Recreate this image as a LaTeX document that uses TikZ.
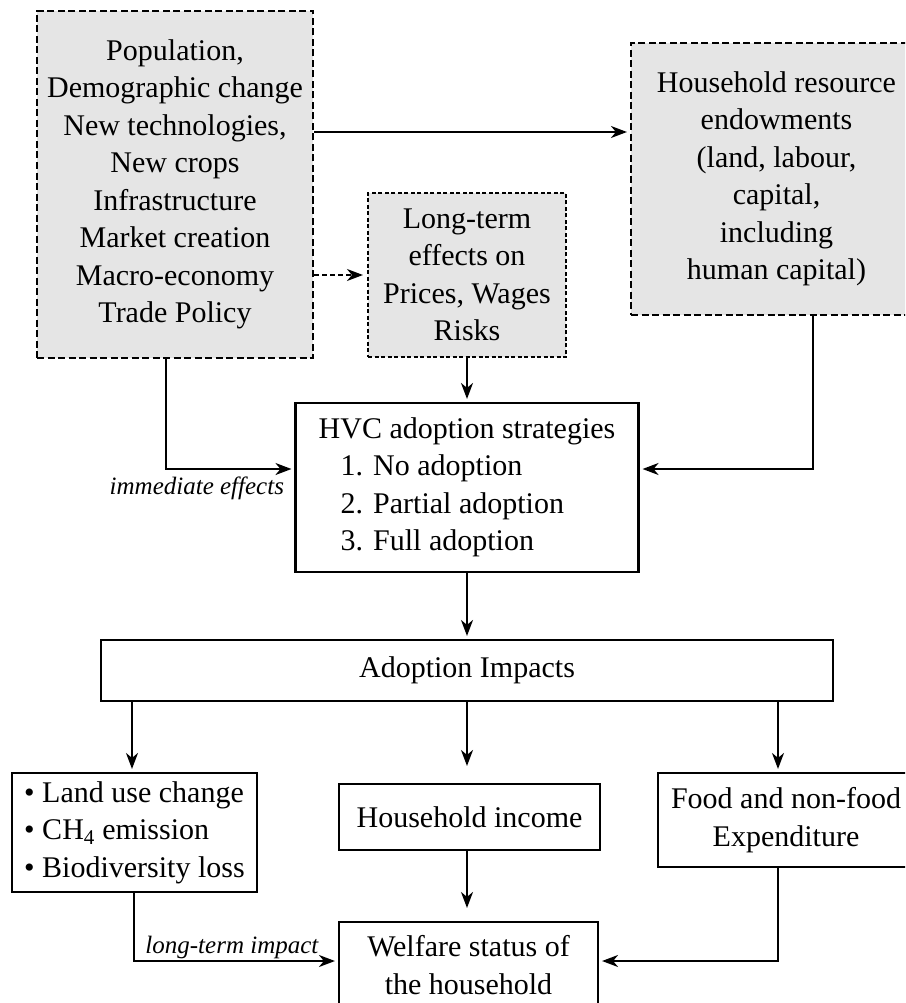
\documentclass[tikz,border=0pt]{standalone}
\usepackage{fontspec}
\setmainfont{Liberation Serif}
\usetikzlibrary{arrows.meta,calc}
\begin{document}
\begin{tikzpicture}[x=1pt,y=-1pt,
  box/.style={draw, line width=2.1pt, inner sep=0pt, align=center, font=\fontsize{30}{37.5}\selectfont},
  graybox/.style={box, fill=gray!20},
  longdash/.style={dash pattern=on 7pt off 3.5pt},
  shortdash/.style={dash pattern=on 4pt off 2.5pt},
  arr/.style={line width=2.1pt, -{Stealth[length=16pt,width=12pt,inset=5pt]}, shorten >=3pt},
  lab/.style={font=\fontsize{25}{30}\selectfont\itshape, inner sep=0pt, anchor=base}]
\useasboundingbox (0,0) rectangle (905,1003);
\clip (0,0) rectangle (905,1003);

% nodes
\node[graybox, longdash, minimum width=276pt, minimum height=347pt] (tl) at (175,184.5)
  {Population,\\Demographic change\\New technologies,\\New crops\\Infrastructure\\Market creation\\Macro-economy\\Trade Policy};
\node[graybox, longdash, minimum width=291pt, minimum height=272pt] (hh) at (776.5,179)
  {Household resource\\endowments\\(land, labour,\\capital,\\including\\human capital)};
\node[graybox, shortdash, minimum width=198pt, minimum height=164pt] (lt) at (467,275)
  {Long-term\\effects on\\Prices, Wages\\Risks};
\node[box, align=left, minimum width=343pt, minimum height=169pt] (hvc) at (467,487.5)
  {HVC adoption strategies\\\hspace*{22pt}1. No adoption\\\hspace*{22pt}2. Partial adoption\\\hspace*{22pt}3. Full adoption};
\node[box, minimum width=732pt, minimum height=61pt] (ado) at (467,670.5) {Adoption Impacts};
\node[box, align=left, minimum width=245pt, minimum height=119pt] (land) at (134.5,832.5)
  {\textbullet\ Land use change\\\textbullet\ CH\textsubscript{4} emission\\\textbullet\ Biodiversity loss};
\node[box, minimum width=261pt, minimum height=66pt] (inc) at (469.5,817) {Household income};
\node[box, minimum width=256pt, minimum height=94pt] (food) at (786,820) {Food and non-food\\Expenditure};
\node[box, minimum width=259pt, minimum height=86pt] (wel) at (468.5,965) {Welfare status of\\the household};

% connectors
\draw[arr] (tl.east |- 0,132) -- (hh.west |- 0,132);
\draw[arr, dash pattern=on 5pt off 3pt, shorten >=4pt] (tl.east |- lt.west) -- (lt.west);
\draw[arr] (lt.south) -- (hvc.north -| lt.south);
\draw[arr] (tl.south -| 166,0) |- node[lab, pos=0.62, yshift=-25pt] {immediate effects} (hvc.west |- 0,469);
\draw[arr] (hh.south -| 813,0) |- (hvc.east |- 0,469);
\draw[arr] (hvc.south) -- (ado.north -| hvc.south);
\draw[arr] (ado.south -| 132,0) -- (land.north -| 132,0);
\draw[arr] (ado.south) -- ([yshift=14pt]inc.north -| ado.south);
\draw[arr] (ado.south -| 778,0) -- (food.north -| 778,0);
\draw[arr] (inc.south -| ado.south) -- ([yshift=10pt]wel.north -| ado.south);
\draw[arr] (land.south -| 134,0) |- node[lab, pos=0.74, yshift=8pt] {long-term impact} (wel.west |- 0,961);
\draw[arr] (food.south -| 778,0) |- (wel.east |- 0,961);
\end{tikzpicture}
\end{document}
